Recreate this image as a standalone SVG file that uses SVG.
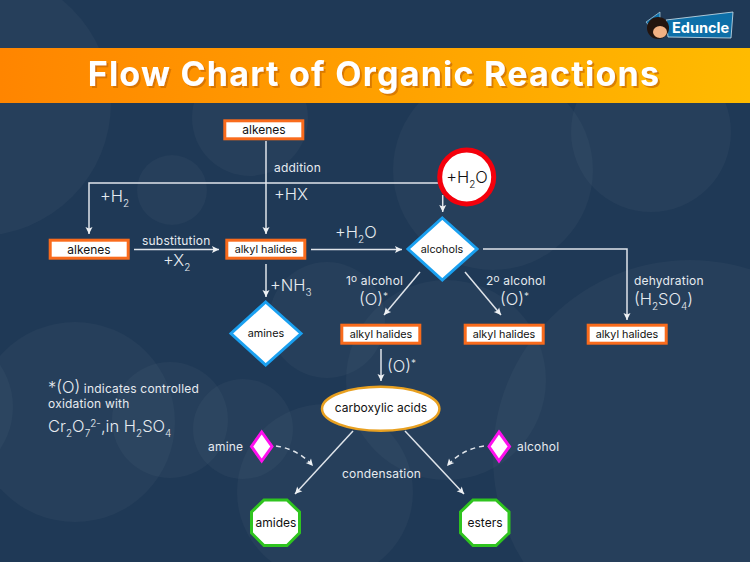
<svg xmlns="http://www.w3.org/2000/svg" width="750" height="562" viewBox="0 0 750 562">
<style>
text{font-family:"Inter","Open Sans","Liberation Sans",sans-serif}
.bg{fill:#fff;opacity:.032}
.box{fill:#fff;stroke:#f96b1c;stroke-width:3}
.dia{fill:#fff;stroke:#1aa0f0;stroke-width:3}
.mag{fill:#fff;stroke:#ff10ee;stroke-width:3}
.oct{fill:#fff;stroke:#2fc41f;stroke-width:3}
.n{fill:#111;font-size:12px;text-anchor:middle}
.a{font-size:10.8px}
.l{fill:#e6ebf0;font-size:12px;letter-spacing:.2px}
.f{fill:#e6ebf0;font-size:16.500px;font-weight:300;letter-spacing:0}
.c{fill:none;stroke:#dfe4ea;stroke-width:1.5}
.s{font-size:10px}
</style>
<defs>
<linearGradient id="g"><stop offset="0" stop-color="#ff8500"/><stop offset="1" stop-color="#ffbb00"/></linearGradient>
<filter id="sh" x="-5%" y="-20%" width="110%" height="140%"><feDropShadow dx="2" dy="2" stdDeviation=".6" flood-color="#c96a00" flood-opacity=".7"/></filter>
<marker id="a" markerUnits="userSpaceOnUse" markerWidth="10" markerHeight="10" refX="8" refY="5" orient="auto"><path d="M1 1.500L8 5L1 8.500L2.500 5Z" fill="#eef1f4"/></marker>
</defs>
<rect width="750" height="562" fill="#1f3956"/>
<g id="background">
<circle class="bg" cx="-22" cy="103" r="133"/>
<circle class="bg" cx="250" cy="118" r="58"/>
<circle class="bg" cx="172" cy="190" r="35"/>
<circle class="bg" cx="493" cy="170" r="100"/>
<circle class="bg" cx="651" cy="132" r="80"/>
<circle class="bg" cx="-62" cy="407" r="75"/>
<circle class="bg" cx="75" cy="422" r="100"/>
<circle class="bg" cx="170" cy="420" r="58"/>
<circle class="bg" cx="243" cy="429" r="50"/>
<circle class="bg" cx="325" cy="492" r="88"/>
<circle class="bg" cx="327" cy="320" r="58"/>
<circle class="bg" cx="446" cy="380" r="100"/>
<circle class="bg" cx="690" cy="457" r="197"/>
</g>
<g id="header">
<rect y="48" width="750" height="55" fill="url(#g)"/>
<text x="374" y="86" fill="#fff" font-size="34" font-weight="700" letter-spacing="1.25" text-anchor="middle" filter="url(#sh)">Flow Chart of Organic Reactions</text>
</g>
<g id="logo">
<path d="M666 20L733 12L731 38L668 37Z" fill="#0d6fa8" stroke="#cfe3ee" stroke-width=".8"/>
<path d="M646 22L660 12V19L651 28Z" fill="#0d6fa8" stroke="#cfe3ee" stroke-width=".6"/>
<circle cx="658" cy="28" r="11" fill="#23140e"/>
<ellipse cx="660" cy="32" rx="7" ry="6" fill="#f2b184"/>
<text x="672" y="33" fill="#fff" font-size="14.500" font-weight="700">Eduncle</text>
</g>
<g id="connectors">
<path class="c" marker-end="url(#a)" d="M266 141V234"/>
<path class="c" marker-end="url(#a)" d="M438 183H89V234"/>
<path class="c" marker-end="url(#a)" d="M134 249.500H219"/>
<path class="c" marker-end="url(#a)" d="M311 249.500H402"/>
<path class="c" marker-end="url(#a)" d="M442.700 195V212"/>
<path class="c" marker-end="url(#a)" d="M266 264V297"/>
<path class="c" marker-end="url(#a)" d="M483 249H627V320"/>
<path class="c" marker-end="url(#a)" d="M420 272L384 315"/>
<path class="c" marker-end="url(#a)" d="M465 272L501 315"/>
<path class="c" marker-end="url(#a)" d="M381 349V381"/>
<path class="c" marker-end="url(#a)" d="M353 431L295 494"/>
<path class="c" marker-end="url(#a)" d="M405 431L464 494"/>
<path class="c" stroke-width="1.200" stroke-dasharray="5 4" marker-end="url(#a)" d="M276 446Q298 449 313 466"/>
<path class="c" stroke-width="1.200" stroke-dasharray="5 4" marker-end="url(#a)" d="M484 446Q462 449 447 466"/>
</g>
<g id="labels">
<text class="l" x="274" y="172">addition</text>
<text class="f" x="274" y="200">+HX</text>
<text class="f" x="100" y="202">+H<tspan class="s" dy="5">2</tspan></text>
<text class="l" x="142" y="245">substitution</text>
<text class="f" x="163" y="266">+X<tspan class="s" dy="5">2</tspan></text>
<text class="f" x="335" y="238">+H<tspan class="s" dy="5">2</tspan><tspan dy="-5">O</tspan></text>
<text class="f" x="270" y="291">+NH<tspan class="s" dy="5">3</tspan></text>
<text class="l" x="346" y="285">1<tspan class="s" dy="-3">o</tspan><tspan dy="3"> alcohol</tspan></text>
<text class="f" x="359" y="305">(O)<tspan class="s" dy="-5">*</tspan></text>
<text class="l" x="486" y="285">2<tspan class="s" dy="-3">o</tspan><tspan dy="3"> alcohol</tspan></text>
<text class="f" x="500" y="305">(O)<tspan class="s" dy="-5">*</tspan></text>
<text class="l" x="634" y="285">dehydration</text>
<text class="f" x="634" y="305">(H<tspan class="s" dy="5">2</tspan><tspan dy="-5">SO</tspan><tspan class="s" dy="5">4</tspan><tspan dy="-5">)</tspan></text>
<text class="f" x="387" y="372">(O)<tspan class="s" dy="-5">*</tspan></text>
<text class="l" x="208" y="451">amine</text>
<text class="l" x="517" y="451">alcohol</text>
<text class="l" x="342" y="478">condensation</text>
<text class="l" x="48" y="393"><tspan class="f">*(O)</tspan> indicates controlled</text>
<text class="l" x="48" y="408">oxidation with</text>
<text class="f" x="48" y="432">Cr<tspan class="s" dy="5">2</tspan><tspan dy="-5">O</tspan><tspan class="s" dy="5">7</tspan><tspan class="s" dy="-10">2-</tspan><tspan dy="5">,in H</tspan><tspan class="s" dy="5">2</tspan><tspan dy="-5">SO</tspan><tspan class="s" dy="5">4</tspan></text>
</g>
<g id="n1"><rect class="box" x="224.800" y="120.800" width="78" height="18"/><text class="n" x="264" y="133.500">alkenes</text></g>
<g id="n2"><rect class="box" x="50.200" y="240.200" width="78" height="18"/><text class="n" x="89" y="253.500">alkenes</text></g>
<g id="n3"><rect class="box" x="226.800" y="240.200" width="78" height="18"/><text class="n a" x="266" y="252.500">alkyl halides</text></g>
<g id="n4"><circle cx="466.700" cy="177" r="27" fill="#fff" stroke="#f4000c" stroke-width="5"/><text x="467" y="183" fill="#111" font-size="16.500" font-weight="300" text-anchor="middle">+H<tspan class="s" dy="5">2</tspan><tspan dy="-5">O</tspan></text></g>
<g id="n5"><path class="dia" d="M442.300 218L477 249L442.300 280L408 249Z"/><text class="n a" x="442" y="253">alcohols</text></g>
<g id="n6"><path class="dia" d="M265.700 302L301 333.500L265.700 365L231 333.500Z"/><text class="n a" x="266" y="337">amines</text></g>
<g id="n7"><rect class="box" x="341.800" y="325.200" width="78" height="18"/><text class="n a" x="381" y="337.500">alkyl halides</text></g>
<g id="n8"><rect class="box" x="465.200" y="325.200" width="78" height="18"/><text class="n a" x="504" y="337.500">alkyl halides</text></g>
<g id="n9"><rect class="box" x="588.200" y="325.200" width="78" height="18"/><text class="n a" x="627" y="337.500">alkyl halides</text></g>
<g id="n10"><ellipse cx="380.700" cy="408.800" rx="58.700" ry="22" fill="#fff" stroke="#e8a020" stroke-width="2.500"/><text class="n" x="381" y="412">carboxylic acids</text></g>
<g id="n11"><path class="mag" d="M261.700 432L272 446.500L261.700 461L251.500 446.500Z"/></g>
<g id="n12"><path class="mag" d="M499 432L509.500 446.500L499 461L489 446.500Z"/></g>
<g id="n13"><path class="oct" d="M264 500H287L299.500 512V533L287 545.500H264L251.500 533V512Z"/><text class="n" x="276" y="527">amides</text></g>
<g id="n14"><path class="oct" d="M473 500H496L509 512V533L496 545.500H473L460.500 533V512Z"/><text class="n" x="485" y="527">esters</text></g>
</svg>
